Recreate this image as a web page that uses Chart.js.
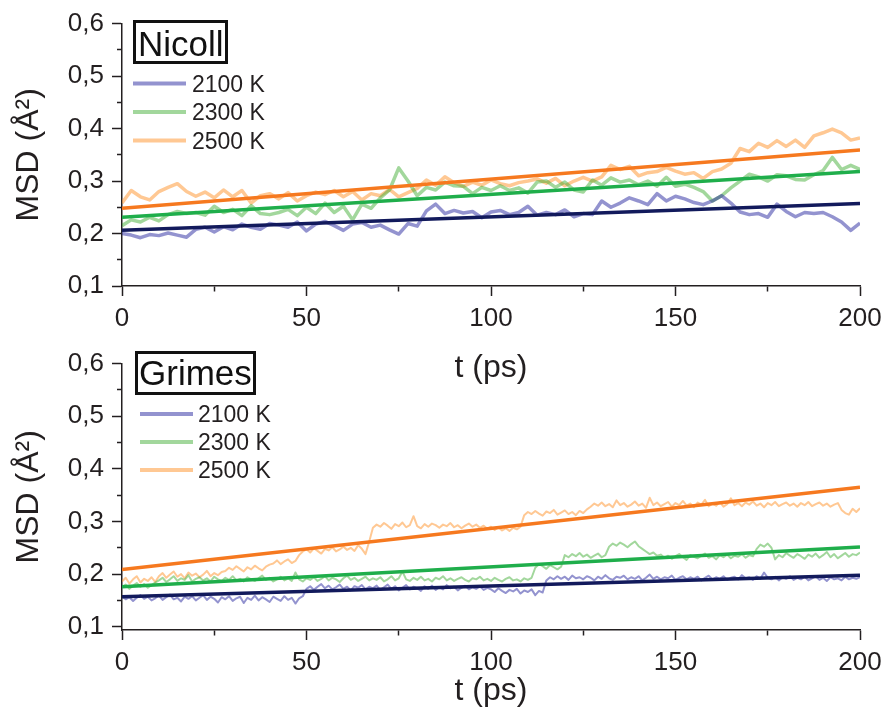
<!DOCTYPE html>
<html>
<head>
<meta charset="utf-8">
<script src="https://cdn.jsdelivr.net/npm/chart.js@4.4.1/dist/chart.umd.min.js"></script>
<style>
  html, body { margin: 0; padding: 0; background: #fff; }
  body { width: 885px; height: 722px; position: relative; overflow: hidden; }
  canvas { position: absolute; left: 0; }
  #nicoll { top: 0; }
  #grimes { top: 340px; }
</style>
</head>
<body>
<canvas id="nicoll" width="885" height="400"></canvas>
<canvas id="grimes" width="885" height="382"></canvas>
<script>
const FONT = '"Liberation Sans", Arial, Helvetica, sans-serif';
const INK = '#231f20';

const tempLabels = ['2100 K', '2300 K', '2500 K'];

// Nicoll potential, one MSD sample every 2.5 ps
const nicollStep = 2.5;
const nicoll2100 = [
  0.200,0.197,0.192,0.198,0.196,0.201,0.197,0.193,0.208,0.212,
  0.203,0.213,0.207,0.218,0.212,0.208,0.219,0.216,0.212,0.222,
  0.205,0.218,0.223,0.215,0.206,0.218,0.221,0.212,0.216,0.207,
  0.199,0.219,0.214,0.243,0.256,0.238,0.244,0.239,0.242,0.230,
  0.241,0.244,0.236,0.240,0.252,0.235,0.240,0.236,0.245,0.232,
  0.238,0.236,0.262,0.250,0.258,0.268,0.262,0.255,0.276,0.262,
  0.271,0.266,0.259,0.255,0.262,0.272,0.258,0.241,0.236,0.238,
  0.231,0.256,0.242,0.232,0.240,0.238,0.240,0.232,0.222,0.206,
  0.220
];
const nicoll2300 = [
  0.215,0.226,0.222,0.231,0.224,0.236,0.242,0.238,0.240,0.235,
  0.252,0.240,0.246,0.234,0.253,0.238,0.236,0.240,0.246,0.234,
  0.250,0.238,0.258,0.240,0.252,0.226,0.256,0.248,0.268,0.283,
  0.325,0.300,0.272,0.288,0.283,0.298,0.291,0.290,0.276,0.288,
  0.282,0.291,0.282,0.287,0.277,0.298,0.300,0.288,0.298,0.283,
  0.279,0.302,0.292,0.306,0.298,0.302,0.293,0.300,0.290,0.307,
  0.290,0.294,0.288,0.280,0.262,0.272,0.287,0.300,0.313,0.308,
  0.300,0.312,0.310,0.303,0.302,0.312,0.320,0.345,0.322,0.330,
  0.322
];
const nicoll2500 = [
  0.258,0.282,0.270,0.264,0.280,0.288,0.295,0.280,0.271,0.279,
  0.268,0.283,0.270,0.282,0.258,0.272,0.276,0.266,0.278,0.262,
  0.272,0.279,0.274,0.282,0.270,0.280,0.264,0.276,0.272,0.284,
  0.270,0.278,0.286,0.302,0.292,0.308,0.297,0.290,0.298,0.292,
  0.302,0.295,0.291,0.297,0.300,0.304,0.296,0.305,0.291,0.300,
  0.307,0.300,0.308,0.330,0.322,0.328,0.310,0.316,0.318,0.326,
  0.319,0.313,0.316,0.305,0.318,0.323,0.334,0.362,0.356,0.372,
  0.364,0.377,0.366,0.378,0.364,0.386,0.392,0.399,0.392,0.378,
  0.382
];

// Grimes potential, one MSD sample every 1 ps
const grimesStep = 1;
const grimes2100 = [
  0.158,0.152,0.156,0.149,0.155,0.160,0.153,0.157,0.150,0.154,
  0.159,0.151,0.156,0.161,0.152,0.155,0.148,0.157,0.153,0.158,
  0.150,0.155,0.160,0.151,0.157,0.153,0.146,0.156,0.152,0.158,
  0.149,0.154,0.157,0.145,0.155,0.151,0.159,0.150,0.156,0.152,
  0.147,0.157,0.153,0.149,0.158,0.151,0.155,0.144,0.154,0.158,
  0.172,0.177,0.170,0.176,0.181,0.173,0.178,0.171,0.175,0.180,
  0.172,0.176,0.169,0.177,0.174,0.179,0.171,0.176,0.173,0.178,
  0.170,0.175,0.180,0.172,0.177,0.169,0.174,0.179,0.171,0.176,
  0.173,0.168,0.177,0.172,0.178,0.170,0.175,0.171,0.179,0.173,
  0.176,0.169,0.174,0.178,0.171,0.175,0.172,0.177,0.170,0.174,
  0.171,0.166,0.173,0.168,0.164,0.170,0.167,0.172,0.163,0.169,
  0.166,0.171,0.160,0.168,0.165,
  0.188,0.194,0.190,0.196,0.191,0.195,0.189,0.197,0.192,0.194,
  0.190,0.196,0.193,0.188,0.195,0.191,0.198,0.192,0.189,0.195,
  0.193,0.197,0.190,0.194,0.191,0.196,0.188,0.193,0.199,0.191,
  0.195,0.190,0.194,0.192,0.197,0.189,0.193,0.196,0.190,0.194,
  0.191,0.195,0.188,0.193,0.197,0.190,0.194,0.191,0.196,0.189,
  0.193,0.195,0.190,0.198,0.192,0.194,0.189,0.196,0.191,0.203,
  0.193,0.190,0.195,0.188,0.194,0.191,0.196,0.189,0.193,0.190,
  0.195,0.188,0.192,0.196,0.189,0.193,0.187,0.194,0.190,0.192,
  0.188,0.195,0.190,0.193,0.191,0.194
];
const grimes2300 = [
  0.175,0.180,0.172,0.178,0.183,0.176,0.181,0.174,0.179,0.184,
  0.188,0.193,0.185,0.190,0.196,0.187,0.192,0.189,0.198,0.186,
  0.191,0.194,0.188,0.192,0.186,0.195,0.190,0.187,0.193,0.189,
  0.196,0.188,0.191,0.186,0.194,0.190,0.187,0.192,0.197,0.189,
  0.193,0.186,0.190,0.195,0.188,0.192,0.187,0.203,0.190,0.186,
  0.192,0.189,0.194,0.187,0.191,0.196,0.188,0.193,0.190,0.185,
  0.192,0.197,0.189,0.193,0.187,0.191,0.195,0.188,0.192,0.189,
  0.194,0.186,0.190,0.196,0.188,0.192,0.205,0.190,0.187,0.193,
  0.189,0.195,0.188,0.191,0.186,0.193,0.190,0.196,0.188,0.192,
  0.187,0.191,0.194,0.189,0.186,0.192,0.190,0.195,0.188,0.191,
  0.187,0.193,0.189,0.186,0.191,0.194,0.188,0.190,0.186,0.192,
  0.189,0.193,
  0.212,0.219,0.215,0.210,0.217,0.213,0.209,0.214,
  0.236,0.232,0.238,0.234,0.240,0.233,0.237,0.231,0.235,0.239,0.232,0.236,
  0.252,0.258,0.254,0.260,0.256,0.251,0.257,0.262,0.253,
  0.248,0.243,0.238,0.241,0.235,
  0.237,0.231,0.235,0.229,0.234,0.238,0.232,0.227,0.236,0.233,
  0.230,0.235,0.239,0.231,0.234,0.228,0.236,0.232,0.237,0.230,
  0.235,0.233,0.238,0.231,0.236,0.234,
  0.248,0.256,0.252,0.258,0.250,
  0.228,0.236,0.232,0.240,0.235,0.231,0.238,0.234,0.229,0.237,
  0.233,0.239,0.231,0.236,0.242,0.232,0.238,0.230,0.235,0.240,
  0.233,0.238,0.236,0.241
];
const grimes2500 = [
  0.186,0.193,0.182,0.190,0.196,0.184,0.191,0.187,0.194,0.185,
  0.196,0.202,0.193,0.199,0.205,0.195,0.200,0.192,0.203,0.197,
  0.201,0.194,0.199,0.206,0.196,0.202,0.198,0.204,
  0.206,0.212,0.208,0.215,0.210,0.205,0.213,0.209,0.216,0.211,0.207,0.214,0.218,
  0.220,0.226,0.219,0.224,0.228,0.221,0.225,
  0.236,0.243,0.247,0.241,0.249,0.244,0.239,0.248,0.245,0.251,
  0.243,0.247,0.252,0.246,0.250,0.244,0.255,0.248,0.238,
  0.262,
  0.288,0.294,0.290,0.297,0.292,0.286,0.295,0.291,0.298,0.289,
  0.293,0.310,0.291,0.287,0.295,0.290,0.296,0.293,0.288,0.294,
  0.291,0.297,0.289,0.293,0.287,0.292,0.296,0.290,0.294,0.288,
  0.292,0.286,0.290,0.284,0.289,0.283,0.287,0.282,0.288,0.285,
  0.290,
  0.312,0.318,0.314,0.320,0.315,0.311,0.319,0.316,0.322,0.313,
  0.317,0.321,0.314,0.318,0.312,0.320,0.316,0.323,
  0.328,0.334,0.330,0.336,0.329,0.333,0.327,0.340,0.331,0.335,
  0.328,0.332,0.338,0.330,0.334,0.326,0.345,0.331,0.336,0.329,
  0.333,0.337,0.328,0.335,0.331,0.339,0.330,0.334,0.327,0.336,
  0.332,0.341,0.329,0.334,0.330,0.337,0.328,0.333,0.344,0.331,
  0.335,0.329,0.336,0.332,0.338,0.330,0.334,0.327,0.335,0.331,
  0.337,0.329,0.333,0.336,0.330,0.334,0.328,0.335,0.331,0.337,
  0.329,0.333,0.336,0.330,0.334,0.328,0.332,0.335,
  0.322,0.316,0.313,0.324,0.318,0.325
];

// linear fits, value at t = 0 and at t = 200 ps
const fitTimes = [0, 200];
const nicollFit2100 = [0.206, 0.257];
const nicollFit2300 = [0.231, 0.318];
const nicollFit2500 = [0.248, 0.359];
const grimesFit2100 = [0.157, 0.198];
const grimesFit2300 = [0.176, 0.2515];
const grimesFit2500 = [0.2087, 0.365];

// axes
const xTicks = [0, 25, 50, 75, 100, 125, 150, 175, 200];
const yTicks = [0.1, 0.15, 0.2, 0.25, 0.3, 0.35, 0.4, 0.45, 0.5, 0.55, 0.6];

const rawColors = ['rgba(40,40,160,0.5)', 'rgba(60,172,48,0.48)', 'rgba(255,146,40,0.5)'];
const fitColors = ['#121a5c', '#1fae4b', '#f6791f'];

const isMajorX = v => v % 50 === 0;
const isMajorY = v => Math.abs(v * 10 - Math.round(v * 10)) < 1e-6;

const toPoints = (values, step) => values.map((v, i) => ({x: i * step, y: v}));
const fitPoints = vals => vals.map((v, i) => ({x: fitTimes[i], y: v}));

const panelLegend = {
  id: 'panelLegend',
  afterDraw(chart, args, o) {
    const ctx = chart.ctx;
    ctx.save();
    ctx.fillStyle = '#fff';
    ctx.fillRect(o.box[0], o.box[1], o.box[2], o.box[3]);
    ctx.lineWidth = 3;
    ctx.strokeStyle = '#111';
    ctx.strokeRect(o.box[0], o.box[1], o.box[2], o.box[3]);
    ctx.fillStyle = '#111';
    ctx.textBaseline = 'alphabetic';
    ctx.font = '35px ' + FONT;
    ctx.fillText(o.title, o.titleX, o.titleY);
    ctx.font = '23px ' + FONT;
    chart.data.datasets.filter(d => d.inKey).forEach((d, i) => {
      const y = o.rowY + i * o.rowGap;
      ctx.strokeStyle = d.borderColor;
      ctx.lineWidth = 4;
      ctx.beginPath();
      ctx.moveTo(o.lineX, y);
      ctx.lineTo(o.lineX + o.lineLen, y);
      ctx.stroke();
      ctx.fillStyle = INK;
      ctx.fillText(d.label, o.textX, y + 8.3);
    });
    ctx.restore();
  }
};

function makePanel(canvasId, raw, step, fits, rawWidth, p) {
  const datasets = [];
  raw.forEach((vals, i) => {
    datasets.push({
      label: tempLabels[i], inKey: true, data: toPoints(vals, step),
      borderColor: rawColors[i], borderWidth: rawWidth, order: 2
    });
  });
  fits.forEach((vals, i) => {
    datasets.push({
      label: tempLabels[i] + ' fit', data: fitPoints(vals),
      borderColor: fitColors[i], borderWidth: 3.5, order: 1
    });
  });

  return new Chart(document.getElementById(canvasId), {
    type: 'line',
    data: {datasets},
    plugins: [panelLegend],
    options: {
      responsive: false,
      animation: false,
      events: [],
      layout: {autoPadding: false, padding: {top: p.padTop, right: 25, left: 0, bottom: 0}},
      elements: {point: {radius: 0}, line: {tension: 0, borderJoinStyle: 'round'}},
      plugins: {
        legend: {display: false},
        tooltip: {enabled: false},
        panelLegend: p.key
      },
      scales: {
        x: {
          type: 'linear', min: 0, max: 200,
          afterBuildTicks: s => { s.ticks = xTicks.map(v => ({value: v})); },
          afterFit: s => { s.height = p.xHeight; s.paddingLeft = 0; s.paddingRight = 0; },
          border: {color: INK, width: 1.5},
          grid: {
            drawOnChartArea: false, tickLength: 10, tickColor: INK, tickWidth: 1.5,
            tickBorderDash: c => (c.tick && !isMajorX(c.tick.value)) ? [5, 20] : []
          },
          ticks: {
            padding: 7, color: INK, maxRotation: 0, autoSkip: false,
            font: {family: FONT, size: 26},
            callback: v => isMajorX(v) ? String(v) : ''
          },
          title: {
            display: true, text: 't (ps)', color: INK,
            font: {family: FONT, size: 32}, padding: {top: 0, bottom: p.titlePad}
          }
        },
        y: {
          type: 'linear', min: p.yMin, max: 0.6,
          afterBuildTicks: s => { s.ticks = yTicks.map(v => ({value: v})); },
          afterFit: s => { s.width = 122; },
          border: {color: INK, width: 1.5},
          grid: {
            drawOnChartArea: false, tickLength: 10, tickColor: INK, tickWidth: 1.5,
            tickBorderDash: c => (c.tick && !isMajorY(c.tick.value)) ? [0, 5, 20] : []
          },
          ticks: {
            padding: 8, color: INK, autoSkip: false,
            font: {family: FONT, size: 26},
            callback: v => isMajorY(v) ? v.toFixed(1).replace('.', ',') : ''
          },
          title: {
            display: true, text: 'MSD (Å²)', color: INK,
            font: {family: FONT, size: 32}, padding: {top: 10, bottom: 0}
          }
        }
      }
    }
  });
}

makePanel('nicoll', [nicoll2100, nicoll2300, nicoll2500], nicollStep,
  [nicollFit2100, nicollFit2300, nicollFit2500], 3.5, {
    padTop: 22, xHeight: 114, titlePad: 13, yMin: 0.1,
    key: {box: [134.5, 21.5, 92, 41], title: 'Nicoll', titleX: 138, titleY: 55.5,
          lineX: 133, lineLen: 53, rowY: 83.5, rowGap: 28.5, textX: 192}
  });

makePanel('grimes', [grimes2100, grimes2300, grimes2500], grimesStep,
  [grimesFit2100, grimesFit2300, grimesFit2500], 2, {
    padTop: 23, xHeight: 92, titlePad: 12, yMin: 0.09375,
    key: {box: [136.5, 12.5, 118, 41], title: 'Grimes', titleX: 139, titleY: 45,
          lineX: 140, lineLen: 53, rowY: 74, rowGap: 28, textX: 198}
  });
</script>
</body>
</html>
